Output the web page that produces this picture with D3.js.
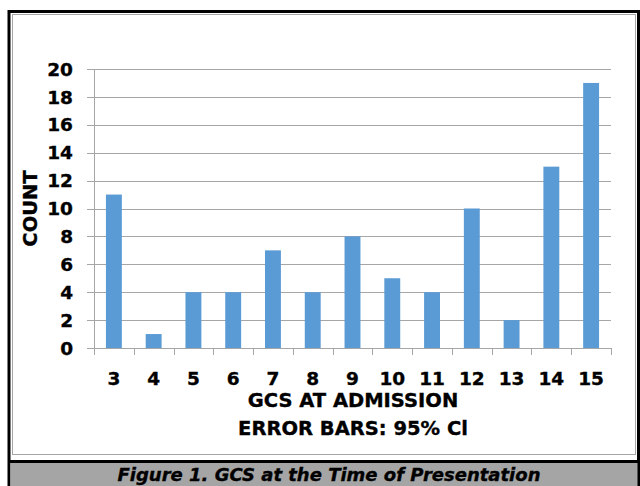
<!DOCTYPE html>
<html>
<head>
<meta charset="utf-8">
<script src="https://cdn.jsdelivr.net/npm/d3@7"></script>
<style>
  html, body { margin: 0; padding: 0; background: #fff; }
  svg { display: block; }
  text { font-family: "DejaVu Sans", Verdana, sans-serif; font-weight: bold; fill: #000;
         stroke: #000; stroke-width: 0.35px; }
</style>
</head>
<body>
<script>
// GCS scores at admission and patient counts
const categories = ["3", "4", "5", "6", "7", "8", "9", "10", "11", "12", "13", "14", "15"];
const counts = [11, 1, 4, 4, 7, 4, 8, 5, 4, 10, 2, 13, 19];
const yTicks = [0, 2, 4, 6, 8, 10, 12, 14, 16, 18, 20];

const W = 640, H = 486;
const svg = d3.select("body").append("svg").attr("width", W).attr("height", H);

// frame: outer black box, inner light-gray chart border, caption band
svg.append("rect").attr("x", 9).attr("y", 11.5).attr("width", 629.5).attr("height", 476)
  .attr("fill", "#fff").attr("stroke", "#000").attr("stroke-width", 3);
svg.append("rect").attr("x", 12.5).attr("y", 14.5).attr("width", 623).attr("height", 440)
  .attr("fill", "#fff").attr("stroke", "#a6a6a6").attr("stroke-width", 1);
svg.append("rect").attr("x", 10.5).attr("y", 463).attr("width", 627).attr("height", 24)
  .attr("fill", "#a5a5a5");
svg.append("line").attr("x1", 8).attr("x2", 640).attr("y1", 461.5).attr("y2", 461.5)
  .attr("stroke", "#000").attr("stroke-width", 3);

const plot = { left: 94, right: 611, top: 69, bottom: 348 };

const x = d3.scaleBand().domain(categories).range([plot.left, plot.right]).paddingInner(0.6).paddingOuter(0.3);
const xEdge = d3.scaleBand().domain(categories).range([plot.left, plot.right]);
const y = d3.scaleLinear().domain([0, 20]).range([plot.bottom, plot.top]);

const gridColor = "#a6a6a6";

// horizontal gridlines with short ticks left of the axis
svg.append("g").selectAll("line").data(yTicks).join("line")
  .attr("x1", plot.left - 7).attr("x2", plot.right)
  .attr("y1", d => Math.round(y(d)) + 0.5).attr("y2", d => Math.round(y(d)) + 0.5)
  .attr("stroke", gridColor).attr("stroke-width", 1);

// vertical axis line
svg.append("line").attr("x1", plot.left + 0.5).attr("x2", plot.left + 0.5)
  .attr("y1", plot.top).attr("y2", plot.bottom + 7)
  .attr("stroke", gridColor);

// category boundary ticks below the baseline
const edges = categories.map(c => xEdge(c)).concat([plot.right]);
svg.append("g").selectAll("line").data(edges).join("line")
  .attr("x1", d => Math.round(d) + 0.5).attr("x2", d => Math.round(d) + 0.5)
  .attr("y1", plot.bottom).attr("y2", plot.bottom + 7)
  .attr("stroke", gridColor);

// bars
svg.append("g").selectAll("rect").data(counts).join("rect")
  .attr("x", (d, i) => x(categories[i]))
  .attr("width", x.bandwidth())
  .attr("y", d => y(d))
  .attr("height", d => y(0) - y(d))
  .attr("fill", "#5b9bd5");

// y tick labels
svg.append("g").selectAll("text").data(yTicks).join("text")
  .attr("x", 73).attr("y", d => y(d)).attr("dy", "0.36em")
  .attr("text-anchor", "end").style("font-size", "18.5px")
  .text(d => d);

// x tick labels
svg.append("g").selectAll("text").data(categories).join("text")
  .attr("x", d => x(d) + x.bandwidth() / 2).attr("y", 385)
  .attr("text-anchor", "middle").style("font-size", "18.5px")
  .text(d => d);

// axis titles
svg.append("text").attr("x", 353).attr("y", 407).attr("text-anchor", "middle")
  .style("font-size", "19.5px").text("GCS AT ADMISSION");
svg.append("text").attr("x", 353).attr("y", 435).attr("text-anchor", "middle")
  .style("font-size", "19.5px").text("ERROR BARS: 95% Cl");
svg.append("text")
  .attr("transform", `translate(37, ${(plot.top + plot.bottom) / 2}) rotate(-90)`)
  .attr("text-anchor", "middle").style("font-size", "19.5px").text("COUNT");

// caption
svg.append("text").attr("x", 329).attr("y", 481).attr("text-anchor", "middle")
  .style("font-size", "18px").style("font-style", "italic")
  .text("Figure 1. GCS at the Time of Presentation");
</script>
</body>
</html>
